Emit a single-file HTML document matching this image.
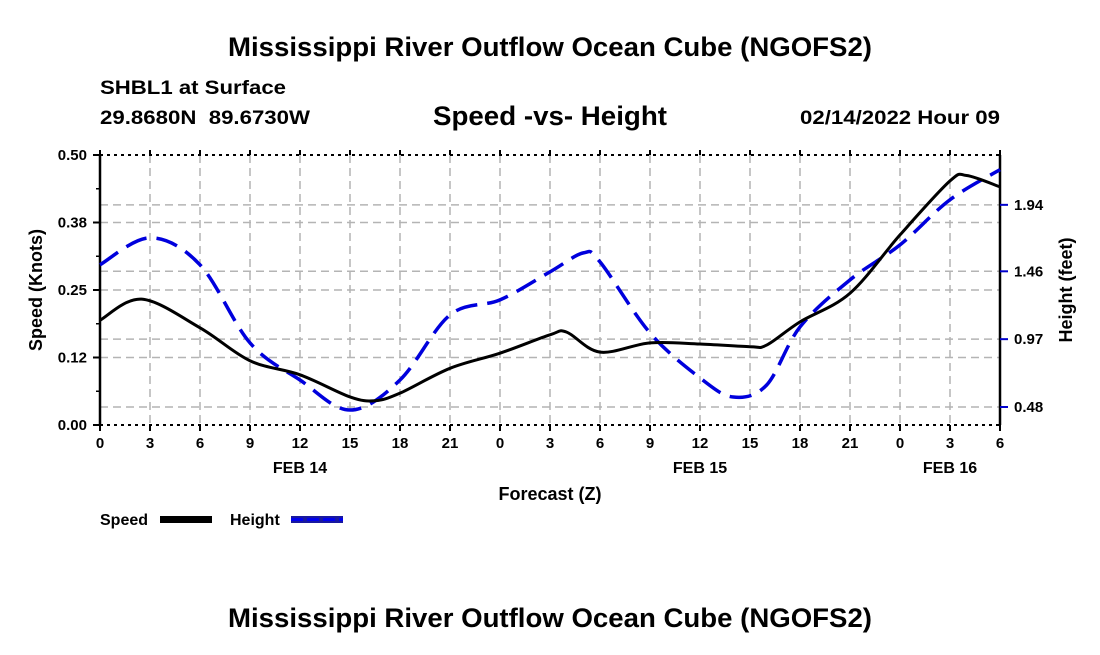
<!DOCTYPE html>
<html><head><meta charset="utf-8"><style>
body{margin:0;background:#fff;width:1100px;height:650px;overflow:hidden}
svg text{font-family:"Liberation Sans",sans-serif;font-weight:bold;fill:#000}
</style></head><body>
<svg id="c" width="1100" height="650">
<text x="228" y="56" font-size="27" textLength="644" lengthAdjust="spacingAndGlyphs">Mississippi River Outflow Ocean Cube (NGOFS2)</text>
<text x="100" y="94" font-size="19" textLength="186" lengthAdjust="spacingAndGlyphs">SHBL1 at Surface</text>
<text x="100" y="124" font-size="19" textLength="210" lengthAdjust="spacingAndGlyphs" xml:space="preserve">29.8680N  89.6730W</text>
<text x="433" y="125" font-size="27" textLength="234" lengthAdjust="spacingAndGlyphs">Speed -vs- Height</text>
<text x="800" y="124" font-size="19" textLength="200" lengthAdjust="spacingAndGlyphs">02/14/2022 Hour 09</text>
<text x="228" y="627" font-size="27" textLength="644" lengthAdjust="spacingAndGlyphs">Mississippi River Outflow Ocean Cube (NGOFS2)</text>
<g id="grid"></g><g id="axes"></g><g id="series"></g>
<text x="100" y="525" font-size="16">Speed</text>
<rect x="160" y="516" width="52" height="7" fill="#000"/>
<text x="230" y="525" font-size="16">Height</text>
<rect x="291" y="516" width="52" height="7" fill="#1818a0"/>
<line x1="291" y1="519.5" x2="343" y2="519.5" stroke="#0000ee" stroke-width="3" stroke-dasharray="12,4"/>
</svg>
<script>
const xTickLabels=["0","3","6","9","12","15","18","21","0","3","6","9","12","15","18","21","0","3","6"];
const dayLabels=["FEB 14","FEB 15","FEB 16"];
const dayHours=[12,36,51];
const speedTicks=[0,0.125,0.25,0.375,0.5];
const speedTickLabels=["0.00","0.12","0.25","0.38","0.50"];
const heightTicks=[0.48,0.97,1.46,1.94];
const speedHours=[0,2.5,6,9,12,15,16.5,18,21,24,27,28,30,33,36,39,40,42,45,48,51,52,54];
const speedValues=[0.194,0.233,0.180,0.119,0.093,0.052,0.045,0.059,0.105,0.133,0.167,0.172,0.135,0.152,0.150,0.145,0.148,0.191,0.244,0.352,0.452,0.462,0.441];
const heightHours=[0,3,6,9,12,15,18,21,24,27,29,30,33,36,38,40,42,45,48,51,54];
const heightValues=[1.507,1.702,1.507,0.943,0.675,0.458,0.675,1.145,1.254,1.456,1.593,1.528,1.015,0.690,0.552,0.639,1.058,1.398,1.651,1.977,2.194];
const X0=100,X1=1000,Y0=155,Y1=425,HMAX=54,HMIN_H=0.35,HMAX_H=2.30;
const xs=h=>X0+(X1-X0)*h/HMAX;
const ys=v=>Y1-(Y1-Y0)*v/0.5;
const yh=v=>Y1-(Y1-Y0)*(v-HMIN_H)/(HMAX_H-HMIN_H);
const NS="http://www.w3.org/2000/svg";
function mk(p,t,a){const e=document.createElementNS(NS,t);for(const k in a)e.setAttribute(k,a[k]);p.appendChild(e);return e;}
const G=document.getElementById('grid'),A=document.getElementById('axes'),S=document.getElementById('series');
const gs={stroke:"#b4b4b4","stroke-width":1.5,"stroke-dasharray":"8,5"};
for(let i=1;i<xTickLabels.length-1;i++){const x=xs(i*3);const l=mk(G,'line',Object.assign({x1:x,y1:Y0,x2:x,y2:Y1},gs));

}
speedTicks.slice(1,-1).forEach(v=>{const l=mk(G,'line',Object.assign({x1:X0,y1:ys(v),x2:X1,y2:ys(v)},gs));

});
heightTicks.forEach(v=>{const l=mk(G,'line',Object.assign({x1:X0,y1:yh(v),x2:X1,y2:yh(v)},gs));

});
let l=mk(A,'line',{x1:X0,y1:Y0,x2:X0,y2:Y1,stroke:"#000","stroke-width":2.5});


l=mk(A,'line',{x1:X1,y1:Y0,x2:X1,y2:Y1,stroke:"#000","stroke-width":2.5});


l=mk(A,'line',{x1:X0,y1:Y0,x2:X1,y2:Y0,stroke:"#000","stroke-width":2,"stroke-dasharray":"3,4"});


l=mk(A,'line',{x1:X0,y1:Y1,x2:X1,y2:Y1,stroke:"#000","stroke-width":2,"stroke-dasharray":"3,4"});


xTickLabels.forEach((t,i)=>{const x=xs(i*3);mk(A,'line',{x1:x,y1:Y1,x2:x,y2:Y1+6,stroke:"#000","stroke-width":2});mk(A,'line',{x1:x,y1:Y0,x2:x,y2:Y0-5,stroke:"#000","stroke-width":2});
const e=mk(A,'text',{x:x,y:Y1+23,"font-size":15,"text-anchor":"middle"});e.textContent=t;

});
dayLabels.forEach((t,i)=>{const e=mk(A,'text',{x:xs(dayHours[i]),y:Y1+48,"font-size":16,"text-anchor":"middle"});e.textContent=t;

});
let e=mk(A,'text',{x:550,y:500,"font-size":18,"text-anchor":"middle"});e.textContent="Forecast (Z)";


speedTicks.forEach((v,i)=>{mk(A,'line',{x1:X0-7,y1:ys(v),x2:X0,y2:ys(v),stroke:"#000","stroke-width":2});
const t=mk(A,'text',{x:X0-13,y:ys(v)+5,"font-size":15,"text-anchor":"end"});t.textContent=speedTickLabels[i];

});
for(let i=0;i<4;i++){const v=0.0625+0.125*i;mk(A,'line',{x1:X0-4,y1:ys(v),x2:X0,y2:ys(v),stroke:"#000","stroke-width":1.5});}
heightTicks.forEach(v=>{mk(A,'line',{x1:X1,y1:yh(v),x2:X1+8,y2:yh(v),stroke:"#0000cc","stroke-width":2});
const t=mk(A,'text',{x:X1+14,y:yh(v)+5,"font-size":15});t.textContent=v.toFixed(2);

});
e=mk(A,'text',{x:0,y:0,"font-size":18,"text-anchor":"middle",transform:`translate(42,290) rotate(-90)`});e.textContent="Speed (Knots)";


e=mk(A,'text',{x:0,y:0,"font-size":18,"text-anchor":"middle",transform:`translate(1072,290) rotate(-90)`});e.textContent="Height (feet)";


function path(pts){let d=`M${pts[0][0]},${pts[0][1]}`;for(let i=0;i<pts.length-1;i++){const p0=pts[Math.max(0,i-1)],p1=pts[i],p2=pts[i+1],p3=pts[Math.min(pts.length-1,i+2)];
const c1=[p1[0]+(p2[0]-p0[0])/6,p1[1]+(p2[1]-p0[1])/6],c2=[p2[0]-(p3[0]-p1[0])/6,p2[1]-(p3[1]-p1[1])/6];
d+=`C${c1[0]},${c1[1]} ${c2[0]},${c2[1]} ${p2[0]},${p2[1]}`;}return d;}
let p=mk(S,'path',{d:path(heightHours.map((h,i)=>[xs(h),yh(heightValues[i])])),fill:"none",stroke:"#0000dd","stroke-width":3.5,"stroke-dasharray":"22,10"});


p=mk(S,'path',{d:path(speedHours.map((h,i)=>[xs(h),ys(speedValues[i])])),fill:"none",stroke:"#000","stroke-width":3});


</script>
</body></html>
